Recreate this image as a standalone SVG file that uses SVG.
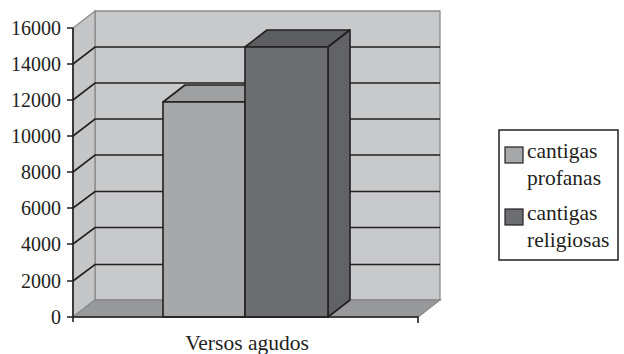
<svg xmlns="http://www.w3.org/2000/svg" width="624" height="354" viewBox="0 0 624 354">
<style>
text{font-family:"Liberation Serif","DejaVu Serif",serif;fill:#231f20}
.ax{font-size:20px;text-anchor:end}
.lg{font-size:21.5px}
.grid{stroke:#231f20;stroke-width:1.6;fill:none}
.edge{stroke:#231f20;stroke-width:1.6;stroke-linejoin:round}
.wall{stroke:#8a8b8d;stroke-width:1.3}
</style>
<rect width="624" height="354" fill="#fff"/>
<g id="walls">
<polygon class="wall" points="95,11 440,11 440,300 95,300" fill="#c8c9cb"/>
<polygon class="wall" points="73,28 95,11 95,300 73,317" fill="#c5c6c8"/>
<polygon class="wall" points="73,317 95,300 440,300 418,317" fill="#98999b"/>
</g>
<g id="gridlines" class="grid">
<path d="M73,64 L95,47 H440 M73,100 L95,83 H440 M73,136 L95,119 H440 M73,172 L95,155 H440 M73,208 L95,191.5 H440 M73,244 L95,227.5 H440 M73,281 L95,264.5 H440"/>
</g>
<g id="bar-profanas">
<polygon class="edge" points="163,102 185,85 267,85 245,102" fill="#9fa0a2"/>
<rect class="edge" x="163" y="102" width="82" height="215" fill="#a7a8aa"/>
</g>
<g id="bar-religiosas">
<polygon class="edge" points="245,47 267,30 350,30 328,47" fill="#5d5e61"/>
<polygon class="edge" points="328,47 350,30 350,300 328,317" fill="#626366"/>
<rect class="edge" x="245" y="47" width="83" height="270" fill="#6d6e71"/>
</g>
<g id="axes" stroke="#231f20" stroke-width="1.6" fill="none">
<path d="M73,28 V322 M67,28 H73 M67,64 H73 M67,100 H73 M67,136 H73 M67,172 H73 M67,208 H73 M67,244 H73 M67,281 H73 M67,317 H73"/>
<path d="M73,317 H418 V323"/>
</g>
<g id="ylabels">
<text class="ax" x="61" y="35">16000</text>
<text class="ax" x="61" y="71">14000</text>
<text class="ax" x="61" y="107">12000</text>
<text class="ax" x="61" y="143">10000</text>
<text class="ax" x="61" y="179">8000</text>
<text class="ax" x="61" y="215">6000</text>
<text class="ax" x="61" y="251">4000</text>
<text class="ax" x="61" y="288">2000</text>
<text class="ax" x="61" y="324">0</text>
</g>
<text id="xlabel" x="247" y="350" text-anchor="middle" font-size="21.5">Versos agudos</text>
<g id="legend">
<rect x="499" y="130" width="119" height="130" fill="#fff" stroke="#231f20" stroke-width="1.5"/>
<rect x="505" y="147" width="18" height="16" fill="#a7a8aa" stroke="#231f20" stroke-width="1.2"/>
<rect x="505" y="209" width="18" height="16" fill="#6d6e71" stroke="#231f20" stroke-width="1.2"/>
<text class="lg" x="527" y="158">cantigas</text>
<text class="lg" x="527" y="185">profanas</text>
<text class="lg" x="527" y="220">cantigas</text>
<text class="lg" x="527" y="247">religiosas</text>
</g>
</svg>
